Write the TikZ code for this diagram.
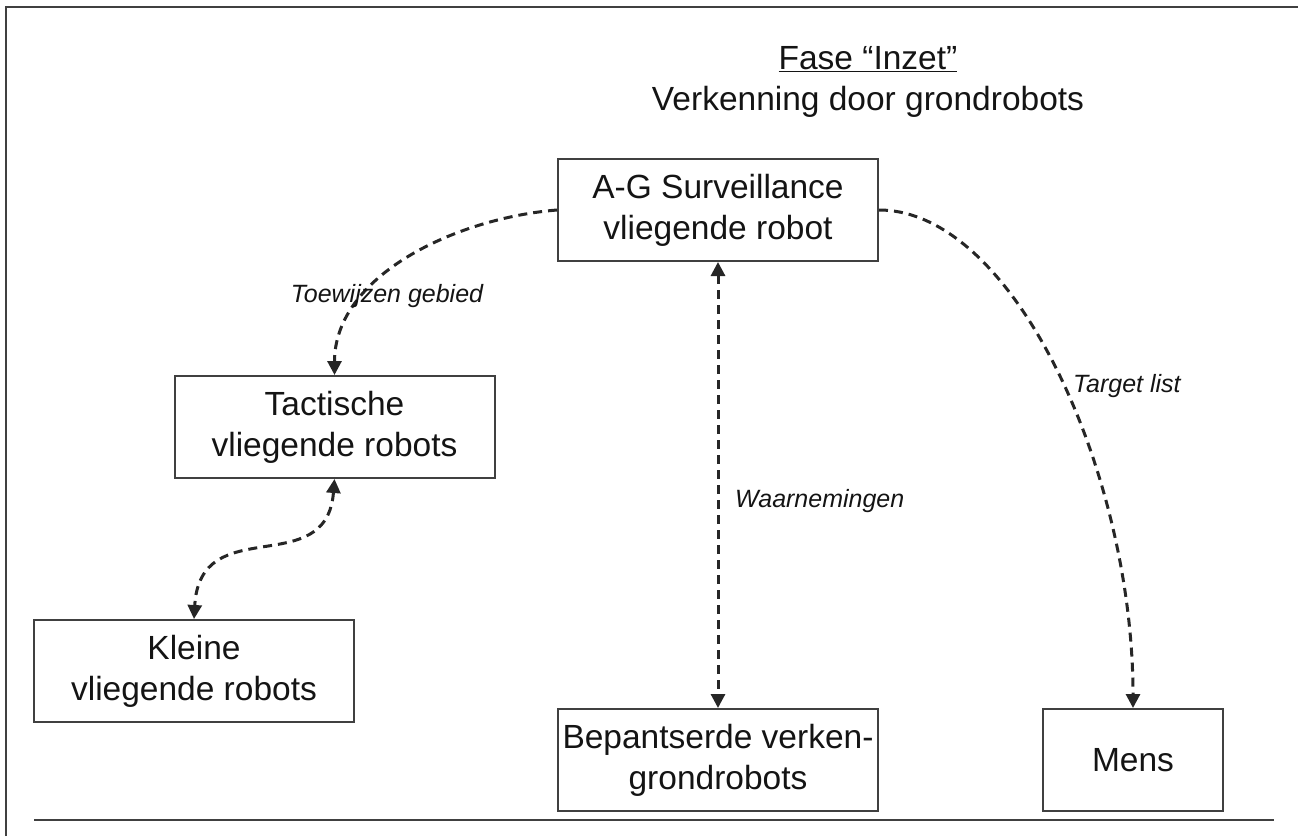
\documentclass[tikz,border=0pt]{standalone}
\usepackage{fontspec}
\setmainfont{Liberation Sans}
\usetikzlibrary{arrows.meta}

\tikzset{
  box/.style={draw=black!75, line width=2pt, minimum width=320pt, minimum height=102pt,
    inner sep=0pt, align=center, text=black!92, font=\fontsize{33.5}{41}\selectfont},
  conn/.style={draw=black!85, line width=3pt, dash pattern=on 9pt off 6pt,
    >={Triangle[length=14pt,width=14pt]}},
  lbl/.style={text=black!92, font=\fontsize{25}{30}\selectfont\itshape, inner sep=0pt},
  ttl/.style={text=black!92, font=\fontsize{33.5}{40}\selectfont, inner sep=0pt, anchor=base},
}

\begin{document}
\begin{tikzpicture}[x=1pt,y=-1pt]
  \useasboundingbox (0,0) rectangle (1298,836);
  % Draw the frame
  \draw[black!75,line width=2pt] (6,836) -- (6,7) -- (1298,7);
  \draw[black!75,line width=2pt] (34,820) -- (1274,820);
  % Title
  \node[ttl] (fase) at (868,69) {\underline{Fase “Inzet”}};
  \node[ttl] (verk) at (868,110) {Verkenning door grondrobots};
  % Draw the boxes
  \node[box] (ag) at (718,210) {A-G Surveillance\\vliegende robot};
  \node[box] (tac) at (334.5,427) {Tactische\\vliegende robots};
  \node[box] (kle) at (194,671) {Kleine\\vliegende robots};
  \node[box] (bep) at (718,760) {Bepantserde verken-\\grondrobots};
  \node[box, minimum width=180pt] (mens) at (1133,760) {Mens};
  % Draw the connectors
  \draw[conn,->] (ag.west) .. controls +(-100,8) and +(0,-100) .. (tac.north);
  \draw[conn,<->] (tac.south) .. controls +(-8,103) and +(6,-109) .. (kle.north);
  \draw[conn,<->] (ag.south) -- (bep.north);
  \draw[conn,->] (ag.east) .. controls +(135,0) and +(0,-235) .. (mens.north);
  % Label the connectors
  \node[lbl,anchor=base] (toew) at (387,302) {Toewijzen gebied};
  \node[lbl,anchor=base west] (waar) at (735,507) {Waarnemingen};
  \node[lbl,anchor=base west] (targ) at (1073,392) {Target list};
\end{tikzpicture}
\end{document}
